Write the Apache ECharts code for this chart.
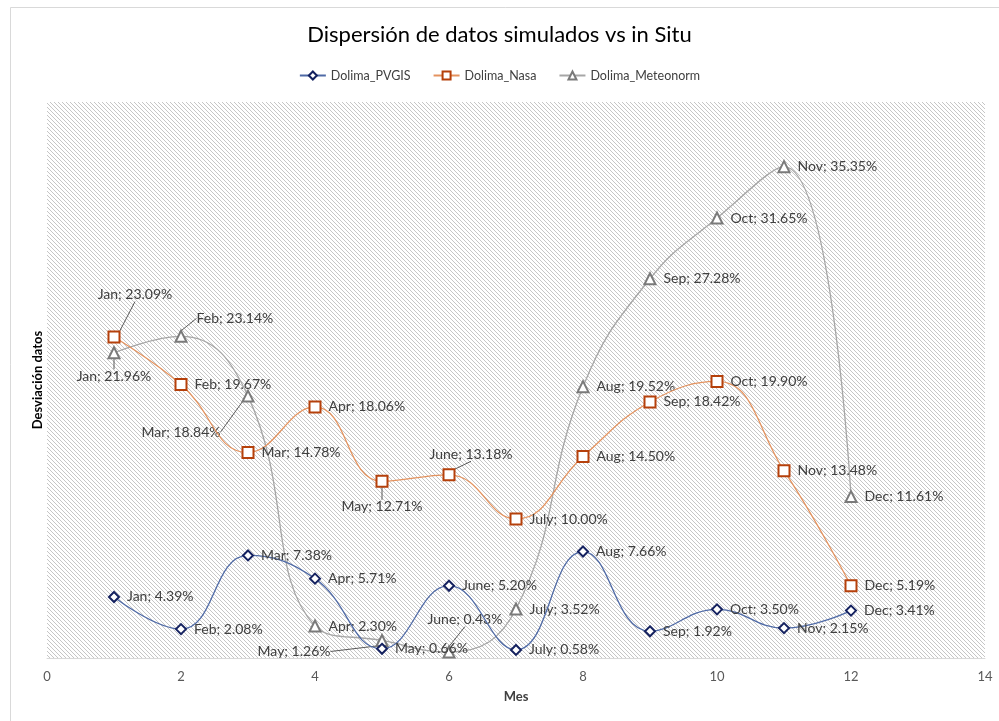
<!DOCTYPE html>
<html>
<head>
<meta charset="utf-8">
<title>Dispersión de datos simulados vs in Situ</title>
<script src="https://cdn.jsdelivr.net/npm/echarts@6/dist/echarts.min.js"></script>
<style>
  html, body { margin: 0; padding: 0; background: #fff; }
  #main { width: 999px; height: 721px; }
</style>
</head>
<body>
<div id="main"></div>
<script>
// datos
var months = ['Jan', 'Feb', 'Mar', 'Apr', 'May', 'June', 'July', 'Aug', 'Sep', 'Oct', 'Nov', 'Dec'];
var monthNum = [1, 2, 3, 4, 5, 6, 7, 8, 9, 10, 11, 12];
var pvgis = [4.39, 2.08, 7.38, 5.71, 0.66, 5.20, 0.58, 7.66, 1.92, 3.50, 2.15, 3.41];
var nasa = [23.09, 19.67, 14.78, 18.06, 12.71, 13.18, 10.00, 14.50, 18.42, 19.90, 13.48, 5.19];
var meteonorm = [21.96, 23.14, 18.84, 2.30, 1.26, 0.43, 3.52, 19.52, 27.28, 31.65, 35.35, 11.61];
var xTicks = [0, 2, 4, 6, 8, 10, 12, 14];

// etiquetas desplazadas (serie -> indice -> [posicion, dx, dy])
var moved = {
    1: { 0: ['top', 21, -22], 4: ['bottom', 0, 5], 5: ['top', 22, 0] },
    2: { 0: ['bottom', 0, 3], 1: ['right', 2, -18], 2: ['left', -14, 36], 4: ['left', -38, 11], 5: ['top', 16, -12] }
};

// trama diagonal del area de trazado
var tile = document.createElement('canvas');
tile.width = 4; tile.height = 4;
var ctx = tile.getContext('2d');
ctx.fillStyle = '#ffffff';
ctx.fillRect(0, 0, 4, 4);
ctx.fillStyle = '#c6c6c6';
for (var k = 0; k < 4; k++) { ctx.fillRect(k, k, 1, 1); }

function buildData(vals, sIdx) {
    return vals.map(function (v, i) {
        var item = { value: [monthNum[i], v] };
        var m = moved[sIdx] && moved[sIdx][i];
        if (m) {
            item.label = { position: m[0] };
            item.labelLine = { show: true };
        }
        return item;
    });
}

function fmt(p) {
    return months[p.dataIndex] + '; ' + p.value[1].toFixed(2) + '%';
}

function layoutFor(sIdx) {
    return function (params) {
        var m = moved[sIdx] && moved[sIdx][params.dataIndex];
        if (!m) return {};
        return { dx: m[1], dy: m[2] };
    };
}

var fontFam = 'Lato, "Liberation Sans", sans-serif';

function mkSeries(name, vals, sIdx, symbol, size, lineColor, markColor) {
    return {
        name: name,
        type: 'line',
        data: buildData(vals, sIdx),
        smooth: 0.45,
        symbol: symbol,
        symbolSize: size,
        color: lineColor,
        lineStyle: { color: lineColor, width: 1.3 },
        itemStyle: { color: '#ffffff', borderColor: markColor, borderWidth: 2 },
        label: {
            show: true,
            position: 'right',
            distance: 7,
            formatter: fmt,
            color: '#404040',
            fontSize: 14,
            fontFamily: fontFam
        },
        labelLine: { show: false, lineStyle: { color: '#595959', width: 1 } },
        labelLayout: layoutFor(sIdx),
        emphasis: { disabled: true },
        z: 3 - sIdx
    };
}

var myChart = echarts.init(document.getElementById('main'), null, { renderer: 'canvas' });

myChart.setOption({
    animation: false,
    backgroundColor: '#ffffff',
    textStyle: { fontFamily: fontFam },
    graphic: [{
        type: 'rect',
        left: 8, top: 5,
        shape: { width: 1000, height: 720 },
        style: { fill: 'none', stroke: '#d9d9d9', lineWidth: 1 },
        silent: true
    }],
    title: {
        text: 'Dispersión de datos simulados vs in Situ',
        left: 'center',
        top: 19,
        textStyle: { fontFamily: fontFam, fontSize: 22, fontWeight: 'normal', color: '#000000' }
    },
    legend: {
        top: 64,
        left: 'center',
        itemWidth: 26,
        itemHeight: 10,
        itemGap: 22,
        textStyle: { fontFamily: fontFam, fontSize: 12.5, color: '#404040' },
        data: ['Dolima_PVGIS', 'Dolima_Nasa', 'Dolima_Meteonorm']
    },
    grid: {
        left: 47, right: 14, top: 102, bottom: 63,
        show: true,
        borderWidth: 0,
        backgroundColor: { image: tile, repeat: 'repeat' }
    },
    xAxis: {
        type: 'value',
        min: xTicks[0],
        max: xTicks[xTicks.length - 1],
        interval: 2,
        name: 'Mes',
        nameLocation: 'middle',
        nameGap: 32,
        nameTextStyle: { fontFamily: fontFam, fontSize: 13, fontWeight: 'bold', color: '#404040' },
        axisLine: { show: true, lineStyle: { color: '#d9d9d9', width: 1 } },
        axisTick: { show: false },
        splitLine: { show: false },
        axisLabel: { color: '#595959', fontSize: 13, margin: 12, fontFamily: fontFam }
    },
    yAxis: {
        type: 'value',
        min: 0,
        max: 40,
        name: 'Desviación datos',
        nameLocation: 'middle',
        nameGap: 3,
        nameTextStyle: { fontFamily: fontFam, fontSize: 13, fontWeight: 'bold', color: '#000000' },
        axisLine: { show: false },
        axisTick: { show: false },
        axisLabel: { show: false },
        splitLine: { show: false }
    },
    series: [
        mkSeries('Dolima_PVGIS', pvgis, 0, 'diamond', 10, '#4f6aa6', '#14215f'),
        mkSeries('Dolima_Nasa', nasa, 1, 'rect', 11, '#e4935f', '#b5400b'),
        mkSeries('Dolima_Meteonorm', meteonorm, 2, 'triangle', 11, '#a6a6a6', '#7a7a7a')
    ]
});
</script>
</body>
</html>
